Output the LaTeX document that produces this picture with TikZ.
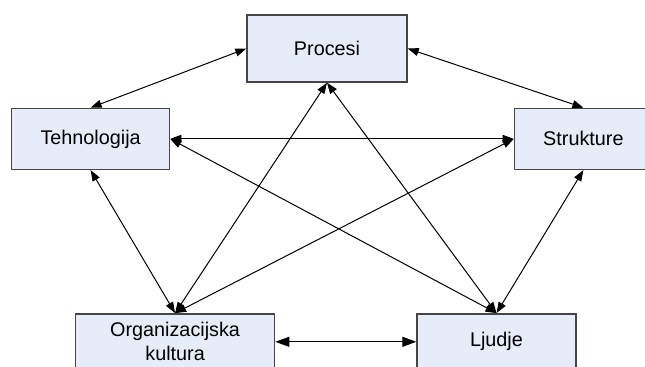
\documentclass[tikz,border=0pt]{standalone}
\usepackage{fontspec}
\setmainfont{Liberation Sans}
\usepackage{xcolor}
\usetikzlibrary{arrows.meta,positioning,shapes}
\definecolor{boxfill}{RGB}{230,236,248}
\definecolor{boxline}{RGB}{70,70,70}

\begin{document}
\begin{tikzpicture}[<->,>={Triangle[length=5.5pt,width=4pt]},line width=0.5pt,
	main node/.style={rectangle,inner sep=0pt,fill=boxfill,draw=boxline,line width=0.7pt,
		font=\fontsize{9.9pt}{12pt}\selectfont,align=center,
		minimum width = 79pt, minimum height = 30.5pt}]

    \useasboundingbox (0,0) rectangle (322.5pt,-183pt);

    \node[main node, minimum width=80pt, minimum height=33.5pt] (P) at (163.5pt,-24.25pt) {Procesi};
    \node[main node] (T) [below left = 12.5pt and 38pt of P] {Tehnologija};
    \node[main node, minimum width=69pt] (S) [below right = 12.5pt and 53pt of P] {Strukture};
    \node[main node, minimum width=99.5pt, minimum height=28pt] (O) [below = 71.5pt of T, xshift=42.25pt] {Organizacijska\\kultura};
    \node[main node, minimum width=79.5pt, minimum height=28pt] (L) [right = 70.5pt of O] {Ljudje};

    \path[color=black]
	(P.west) edge (T.north)
	(P.east) edge (S.north)
	(T.east) edge (S.west)
	(T.east) edge (L.north)
	(S.west) edge (O.north)
	(P.south) edge (O.north)
	(P.south) edge (L.north)
	(T.south) edge (O.north)
	(S.south) edge (L.north);
%	bottom pair has larger heads
    \path[color=black,>={Triangle[length=7pt,width=5pt]}]
	(O.east) edge (L.west);

	\end{tikzpicture}
\end{document}
